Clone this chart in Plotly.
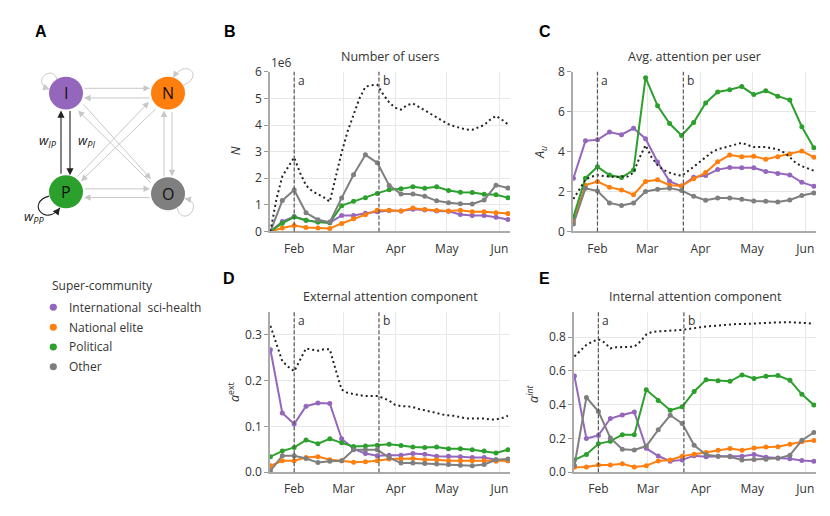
import plotly.graph_objects as go
import pandas as pd

W, H = 830, 516
FONT = "Open Sans"
TXT = "#333333"
GRID = "#e8e8e8"
AXC = "#aaaaaa"

# ---------------- data ----------------
categories = ["International\u00a0\u00a0sci-health", "National elite", "Political", "Other"]
colors = ["#9467bd", "#ff7f0e", "#2ca02c", "#7f7f7f"]

weeks = pd.date_range("2020-01-18", periods=21, freq="7D")
half_weeks = pd.date_range("2020-01-18", periods=41, freq="84h")

month_ticks = ["2020-02-01", "2020-03-01", "2020-04-01", "2020-05-01", "2020-06-01"]
month_labels = ["Feb", "Mar", "Apr", "May", "Jun"]
event_dates = ["2020-02-01", "2020-03-22"]
event_labels = ["a", "b"]

# Panel B: number of users (x 1e6)
users_intl = [0.0, 0.37, 0.56, 0.42, 0.35, 0.33, 0.60, 0.60, 0.68, 0.74, 0.79, 0.77, 0.83, 0.81, 0.77, 0.76, 0.64, 0.60, 0.60, 0.53, 0.45]
users_natl = [0.0, 0.13, 0.22, 0.15, 0.13, 0.11, 0.30, 0.48, 0.63, 0.80, 0.80, 0.77, 0.88, 0.82, 0.79, 0.77, 0.80, 0.74, 0.74, 0.70, 0.67]
users_pol = [0.0, 0.31, 0.54, 0.42, 0.35, 0.33, 0.97, 1.13, 1.27, 1.43, 1.57, 1.60, 1.68, 1.62, 1.68, 1.54, 1.47, 1.46, 1.40, 1.38, 1.27]
users_other = [0.0, 1.16, 1.56, 0.70, 0.44, 0.35, 1.26, 2.13, 2.88, 2.58, 1.73, 1.41, 1.41, 1.32, 1.15, 1.08, 1.04, 1.03, 1.18, 1.74, 1.63]
users_total = [0.0, 1.2, 2.07, 2.45, 2.78, 2.2, 1.73, 1.52, 1.40, 1.28, 1.12, 2.10, 2.97, 3.76, 4.40, 5.00,
               5.44, 5.50, 5.51, 5.15, 4.85, 4.65, 4.58, 4.75, 4.81, 4.68, 4.55, 4.42, 4.30, 4.15, 4.03, 3.95,
               3.88, 3.83, 3.82, 3.90, 4.00, 4.20, 4.34, 4.20, 4.03]

# Panel C: average attention per user
attn_intl = [2.67, 4.54, 4.59, 4.98, 4.85, 5.17, 4.65, 3.48, 2.51, 2.27, 2.72, 2.80, 3.10, 3.20, 3.19, 3.19, 3.01, 2.91, 2.83, 2.46, 2.27]
attn_natl = [0.50, 2.32, 2.50, 2.22, 2.08, 1.84, 2.50, 2.59, 2.32, 2.29, 2.64, 2.95, 3.49, 3.83, 3.75, 3.77, 3.62, 3.75, 3.88, 4.03, 3.72]
attn_pol = [0.74, 2.67, 3.24, 2.83, 2.70, 3.08, 7.71, 6.30, 5.41, 4.81, 5.46, 6.44, 6.99, 7.10, 7.26, 6.86, 7.05, 6.78, 6.59, 5.25, 4.20]
attn_other = [0.37, 2.16, 2.03, 1.43, 1.30, 1.42, 2.00, 2.11, 2.17, 2.05, 1.76, 1.56, 1.67, 1.67, 1.61, 1.53, 1.51, 1.48, 1.58, 1.80, 1.93]
attn_total = [1.63, 2.10, 2.60, 2.75, 2.83, 2.78, 2.75, 2.72, 2.75, 2.75, 2.95, 3.70, 4.32, 3.72, 3.32, 3.08,
              2.95, 2.85, 2.79, 3.00, 3.24, 3.48, 3.72, 3.96, 4.12, 4.20, 4.28, 4.36, 4.44, 4.33, 4.23, 4.23,
              4.23, 4.17, 4.12, 3.96, 3.72, 3.43, 3.27, 3.16, 3.04]

# Panel D: external attention component
ext_intl = [0.267, 0.129, 0.105, 0.144, 0.151, 0.150, 0.073, 0.051, 0.041, 0.036, 0.037, 0.037, 0.041, 0.039, 0.035, 0.035, 0.034, 0.032, 0.032, 0.027, 0.025]
ext_natl = [0.014, 0.025, 0.025, 0.032, 0.034, 0.027, 0.025, 0.022, 0.023, 0.025, 0.029, 0.029, 0.030, 0.027, 0.027, 0.025, 0.025, 0.025, 0.025, 0.024, 0.025]
ext_pol = [0.034, 0.046, 0.054, 0.070, 0.062, 0.073, 0.064, 0.056, 0.057, 0.059, 0.061, 0.058, 0.055, 0.054, 0.055, 0.051, 0.051, 0.049, 0.046, 0.042, 0.049]
ext_other = [0.003, 0.036, 0.036, 0.030, 0.021, 0.024, 0.025, 0.049, 0.049, 0.049, 0.032, 0.020, 0.020, 0.019, 0.018, 0.017, 0.015, 0.014, 0.017, 0.027, 0.029]
ext_total = [0.319, 0.282, 0.242, 0.230, 0.220, 0.245, 0.270, 0.267, 0.265, 0.268, 0.268, 0.223, 0.180, 0.173,
             0.170, 0.168, 0.166, 0.166, 0.166, 0.162, 0.156, 0.147, 0.144, 0.144, 0.142, 0.138, 0.135, 0.131,
             0.129, 0.126, 0.124, 0.123, 0.120, 0.117, 0.117, 0.117, 0.117, 0.115, 0.115, 0.118, 0.123]

# Panel E: internal attention component
int_intl = [0.570, 0.199, 0.218, 0.318, 0.339, 0.356, 0.142, 0.096, 0.065, 0.073, 0.098, 0.092, 0.094, 0.094, 0.094, 0.105, 0.088, 0.084, 0.080, 0.069, 0.065]
int_natl = [0.029, 0.031, 0.042, 0.042, 0.050, 0.031, 0.038, 0.067, 0.073, 0.094, 0.107, 0.117, 0.130, 0.140, 0.130, 0.144, 0.149, 0.151, 0.165, 0.180, 0.188]
int_pol = [0.073, 0.105, 0.168, 0.184, 0.222, 0.222, 0.488, 0.425, 0.367, 0.387, 0.478, 0.547, 0.542, 0.538, 0.576, 0.555, 0.568, 0.572, 0.544, 0.461, 0.398]
int_other = [0.040, 0.442, 0.360, 0.203, 0.136, 0.132, 0.155, 0.251, 0.337, 0.289, 0.159, 0.103, 0.094, 0.092, 0.073, 0.075, 0.077, 0.082, 0.101, 0.189, 0.235]
int_total = [0.685, 0.720, 0.754, 0.773, 0.787, 0.768, 0.733, 0.739, 0.739, 0.739, 0.743, 0.773, 0.815, 0.831,
             0.834, 0.838, 0.840, 0.840, 0.842, 0.848, 0.854, 0.859, 0.863, 0.865, 0.869, 0.873, 0.873, 0.877,
             0.877, 0.879, 0.879, 0.880, 0.882, 0.884, 0.886, 0.888, 0.888, 0.886, 0.886, 0.882, 0.877]

# ---------------- helpers ----------------
def px_x(x):
    return x / W


def px_y(y):
    return 1 - y / H


def ann_px(x, y, text, size=12, color=TXT, xanchor="center", yanchor="middle", family=FONT, **kw):
    return dict(x=px_x(x), y=px_y(y), xref="paper", yref="paper", text=text, showarrow=False,
                xanchor=xanchor, yanchor=yanchor, font=dict(size=size, color=color, family=family), **kw)


fig = go.Figure()

panels = [
    dict(xa="x", ya="y", series=[users_intl, users_natl, users_pol, users_other], total=users_total,
         box=(270, 510, 65, 230), rng=[0, 6], dtick=1, fmt="d", title="Number of users",
         ylab="<i>N</i>", ylab_pos=(235, 147), letter="B", letter_pos=(230, 23.5)),
    dict(xa="x2", ya="y2", series=[attn_intl, attn_natl, attn_pol, attn_other], total=attn_total,
         box=(573, 816, 65, 230), rng=[0, 8], dtick=2, fmt="d", title="Avg. attention per user",
         ylab="<i>A<sub>u</sub></i>", ylab_pos=(540, 149), letter="C", letter_pos=(545, 23.5)),
    dict(xa="x3", ya="y3", series=[ext_intl, ext_natl, ext_pol, ext_other], total=ext_total,
         box=(270, 510, 313, 479), rng=[0, 0.35], dtick=0.1, fmt=".1f", title="External attention component",
         ylab="<i>a</i><sup>ext</sup>", ylab_pos=(234, 396), letter="D", letter_pos=(229, 279)),
    dict(xa="x4", ya="y4", series=[int_intl, int_natl, int_pol, int_other], total=int_total,
         box=(574, 816, 313, 479), rng=[0, 0.95], dtick=0.2, fmt=".1f", title="Internal attention component",
         ylab="<i>a<sup>int</sup></i>", ylab_pos=(533, 398), letter="E", letter_pos=(544, 279)),
]

xr = ["2020-01-17 18:00", "2020-06-07 06:00"]
shapes = []
annotations = []
layout_axes = {}

for i, p in enumerate(panels):
    for vals, col, name in zip(p["series"], colors, categories):
        fig.add_trace(go.Scatter(x=weeks, y=vals, mode="lines+markers", name=name,
                                 line=dict(color=col, width=2), marker=dict(color=col, size=5),
                                 xaxis=p["xa"], yaxis=p["ya"], showlegend=False, hoverinfo="skip"))
    fig.add_trace(go.Scatter(x=half_weeks, y=p["total"], mode="lines", name="All",
                             line=dict(color="#222222", width=2, dash="2px,3px"),
                             xaxis=p["xa"], yaxis=p["ya"], showlegend=False, hoverinfo="skip"))
    x0, x1, ytop, ybot = p["box"]
    sfx = "" if i == 0 else str(i + 1)
    layout_axes["xaxis" + sfx] = dict(
        domain=[px_x(x0), px_x(x1)], anchor="y" + sfx, type="date", range=xr,
        tickvals=month_ticks, ticktext=month_labels, showgrid=True, gridcolor=GRID, gridwidth=1,
        showline=True, linecolor=AXC, linewidth=1.5, ticks="outside", ticklen=5,
        tickcolor="rgba(0,0,0,0)", tickfont=dict(size=12, color=TXT), zeroline=False, fixedrange=True)
    layout_axes["yaxis" + sfx] = dict(
        domain=[px_y(ybot), px_y(ytop)], anchor="x" + sfx, range=p["rng"], dtick=p["dtick"], tick0=0,
        tickformat=p["fmt"], showgrid=True, gridcolor=GRID, gridwidth=1, showline=True, linecolor=AXC,
        linewidth=1.5, ticks="outside", ticklen=4, tickwidth=1, tickcolor="#999999",
        tickfont=dict(size=12, color=TXT), zeroline=False, fixedrange=True)
    for d, lab in zip(event_dates, event_labels):
        shapes.append(dict(type="line", xref=p["xa"], yref="paper", x0=d, x1=d,
                           y0=px_y(ybot), y1=px_y(ytop),
                           line=dict(color="#555555", width=1.2, dash="4px,2px"), layer="above"))
        annotations.append(dict(x=d, y=px_y(ytop + 9), xref=p["xa"], yref="paper", text=lab, showarrow=False,
                                xanchor="left", yanchor="middle", xshift=2,
                                font=dict(size=12, color=TXT, family=FONT)))
    annotations.append(ann_px((x0 + x1) / 2, ytop - 16, p["title"], size=12.5))
    annotations.append(ann_px(p["ylab_pos"][0], p["ylab_pos"][1], p["ylab"], size=12.5, textangle=-90))
    annotations.append(ann_px(p["letter_pos"][0], p["letter_pos"][1], "<b>" + p["letter"] + "</b>",
                              size=16, color="#000000", family="Liberation Sans"))

annotations.append(ann_px(281, 55, "1e6", size=12))
annotations.append(ann_px(41, 23.5, "<b>A</b>", size=16, color="#000000", family="Liberation Sans"))

# ---------------- panel A: network diagram (pixel coordinates axis) ----------------
fig.add_trace(go.Scatter(x=[0, 230], y=[0, H], mode="markers", marker=dict(opacity=0), xaxis="x5", yaxis="y5",
                         showlegend=False, hoverinfo="skip"))
layout_axes["xaxis5"] = dict(domain=[0, px_x(230)], range=[0, 230], visible=False, fixedrange=True, anchor="y5")
layout_axes["yaxis5"] = dict(domain=[0, 1], range=[H, 0], visible=False, fixedrange=True, anchor="x5")

LG = "#c8c8c8"
BK = "#222222"
node_names = ["I", "N", "P", "O"]
node_pos = {"I": (66, 87), "N": (168, 87), "P": (66, 189), "O": (168, 191)}
node_col = {"I": colors[0], "N": colors[1], "P": colors[2], "O": colors[3]}
R = 17


def arrow(tail, head, color, width=1.0, size=1.3):
    return dict(x=head[0], y=head[1], ax=tail[0], ay=tail[1], xref="x5", yref="y5", axref="x5", ayref="y5",
                text="", showarrow=True, arrowhead=2, arrowsize=size, arrowwidth=width, arrowcolor=color,
                standoff=0, startstandoff=0)


edges = [
    ((83, 82), (150, 82), LG), ((151, 92), (84, 92), LG),
    ((83, 186), (150, 186), LG), ((151, 195), (84, 195), LG),
    ((172, 105), (172, 173), LG), ((164, 175), (164, 105), LG),
    ((82, 97), (151, 176), LG), ((152, 181), (78, 105), LG),
    ((76, 175), (149, 96), LG), ((157, 102), (81, 178), LG),
    ((70, 104), (70, 172), BK), ((61, 172), (61, 105), BK),
]
for t, h, c in edges:
    annotations.append(arrow(t, h, c, width=1.1 if c == BK else 1.0))

loops = [
    ((57, 73), (52, 56), (30, 76), (49.5, 83), LG),
    ((183, 79), (205, 70), (186, 50), (173, 71), LG),
    ((177, 205.5), (183, 228), (206, 200), (184.5, 196), LG),
    ((49, 193.5), (26, 200), (45, 226), (60, 205.5), BK),
]
for s, c1, c2, e, col in loops:
    shapes.append(dict(type="path", xref="x5", yref="y5",
                       path=f"M {s[0]},{s[1]} C {c1[0]},{c1[1]} {c2[0]},{c2[1]} {e[0]},{e[1]}",
                       line=dict(color=col, width=1.1 if col == BK else 1.0)))
    dx, dy = e[0] - c2[0], e[1] - c2[1]
    n = (dx * dx + dy * dy) ** 0.5
    tail = (e[0] - 4 * dx / n, e[1] - 4 * dy / n)
    annotations.append(arrow(tail, e, col, width=1.1 if col == BK else 1.0))

for nm in node_names:
    cx, cy = node_pos[nm]
    shapes.append(dict(type="circle", xref="x5", yref="y5", x0=cx - R, x1=cx + R, y0=cy - R, y1=cy + R,
                       fillcolor=node_col[nm], line=dict(width=0)))
    annotations.append(dict(x=cx, y=cy, xref="x5", yref="y5", text=nm, showarrow=False,
                            font=dict(size=16, color="#111111", family=FONT)))

annotations.append(dict(x=48, y=137, xref="x5", yref="y5", text="<i>w</i><sub><i>IP</i></sub>", showarrow=False,
                        font=dict(size=13, color="#222222", family=FONT)))
annotations.append(dict(x=86, y=137, xref="x5", yref="y5", text="<i>w</i><sub><i>PI</i></sub>", showarrow=False,
                        font=dict(size=13, color="#222222", family=FONT)))
annotations.append(dict(x=34, y=215, xref="x5", yref="y5", text="<i>w</i><sub><i>PP</i></sub>", showarrow=False,
                        font=dict(size=13, color="#222222", family=FONT)))

# ---------------- legend (super-community) ----------------
annotations.append(ann_px(50, 285.5, "Super-community", size=12, xanchor="left"))
leg_y = [308.5, 329, 349.5, 370]
for cat, col, yy in zip(categories, colors, leg_y):
    shapes.append(dict(type="circle", xref="x5", yref="y5", x0=53.3 - 3.6, x1=53.3 + 3.6, y0=yy - 3.6,
                       y1=yy + 3.6, fillcolor=col, line=dict(width=0)))
    annotations.append(ann_px(66.5, yy, cat, size=12, xanchor="left"))

fig.update_layout(
    width=W, height=H, autosize=False, margin=dict(l=0, r=0, t=0, b=0, pad=0),
    paper_bgcolor="white", plot_bgcolor="white",
    font=dict(family=FONT, size=12, color=TXT),
    showlegend=False, shapes=shapes, annotations=annotations, **layout_axes,
)

fig.write_html(
    "out.html",
    config={"displayModeBar": False, "responsive": False},
    post_script=(
        "document.documentElement.style.margin='0';document.documentElement.style.padding='0';"
        "document.documentElement.style.overflow='hidden';"
        "document.body.style.margin='0';document.body.style.padding='0';document.body.style.overflow='hidden';"
    ),
)
